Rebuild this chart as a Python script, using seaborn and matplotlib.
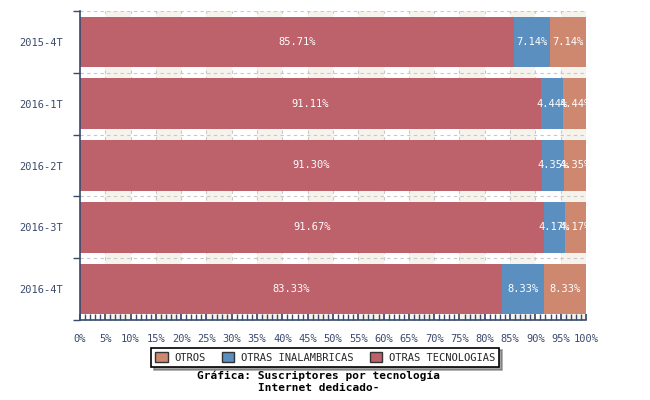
import numpy as np
import pandas as pd
import seaborn as sns
import matplotlib.pyplot as plt
from matplotlib.patches import Patch

periodos = ["2015-4T", "2016-1T", "2016-2T", "2016-3T", "2016-4T"]
otras_tecnologias = [85.71, 91.11, 91.30, 91.67, 83.33]
otras_inalambricas = [7.14, 4.44, 4.35, 4.17, 8.33]
otros = [7.14, 4.44, 4.35, 4.17, 8.33]

c_tec = "#bd616b"
c_inal = "#5b8fc0"
c_otros = "#cf8870"
c_axis = "#3a4a6b"

sns.set_theme(style="white")
plt.rcParams["font.family"] = ["DejaVu Sans Mono"]

df = pd.DataFrame({"periodo": periodos, "tec": otras_tecnologias,
                   "inal": otras_inalambricas, "otros": otros})
df["c1"] = df["tec"]
df["c2"] = df["tec"] + df["inal"]
df["c3"] = df["c2"] + df["otros"]

fig = plt.figure(figsize=(6.5, 4), dpi=100)
ax = fig.add_axes([0.123, 0.2, 0.7785, 0.7725])

# background bands
for s in range(5, 100, 10):
    ax.axvspan(s, s + 5, color="#f5f3ec", zorder=0, lw=0)
for v in range(5, 101, 5):
    ax.axvline(v, color="#c8c8c8", ls=(0, (3, 3)), lw=0.8, zorder=0.5)
for b in np.arange(-0.5, 5, 1):
    ax.axhline(b, color="#c8c8c8", ls=(0, (3, 3)), lw=0.8, zorder=0.5)

for col, c in [("c3", c_otros), ("c2", c_inal), ("c1", c_tec)]:
    sns.barplot(data=df, x=col, y="periodo", orient="h", color=c,
                width=0.82, saturation=1, ax=ax, zorder=2, linewidth=0)

for i in range(len(periodos)):
    starts = [0, df["c1"][i], df["c2"][i]]
    vals = [df["tec"][i], df["inal"][i], df["otros"][i]]
    for s, v in zip(starts, vals):
        ax.text(s + v / 2, i, f"{v:.2f}%", color="white", ha="center",
                va="center", fontsize=7.5, zorder=3)

ax.set_xlim(0, 100)
ax.set_ylim(4.5, -0.5)
ax.set_xlabel("")
ax.set_ylabel("")
ax.set_xticks(range(0, 101, 5))
ax.set_xticklabels([f"{v}%" for v in range(0, 101, 5)], fontsize=7.5, color=c_axis)
ax.set_xticks(range(0, 101, 1), minor=True)
ax.tick_params(axis="x", which="both", direction="in", bottom=True, length=4,
               color=c_axis, pad=10)
ax.set_yticks(range(len(periodos)))
ax.set_yticklabels(periodos, fontsize=7.5, color=c_axis)
ax.set_yticks(np.arange(-0.5, 5, 1), minor=True)
ax.tick_params(axis="y", which="major", length=0, pad=12)
ax.tick_params(axis="y", which="minor", left=True, length=5, color=c_axis)

for side in ["top", "right"]:
    ax.spines[side].set_visible(False)
for side in ["left", "bottom"]:
    ax.spines[side].set_color(c_axis)
    ax.spines[side].set_linewidth(1.2)

handles = [Patch(facecolor=c_otros, edgecolor="#333333", label="OTROS"),
           Patch(facecolor=c_inal, edgecolor="#333333", label="OTRAS INALAMBRICAS"),
           Patch(facecolor=c_tec, edgecolor="#333333", label="OTRAS TECNOLOGIAS")]
leg = fig.legend(handles=handles, loc="center", bbox_to_anchor=(0.5, 0.107),
                 ncol=3, fontsize=7.5, frameon=True, shadow=True, fancybox=False,
                 handlelength=1.2, handleheight=1.2, columnspacing=1.6,
                 borderpad=0.4, handletextpad=0.6)
leg.get_frame().set_edgecolor("black")
leg.get_frame().set_linewidth(1.2)

fig.text(0.49, 0.045, "Gráfica: Suscriptores por tecnología\nInternet dedicado-",
         ha="center", va="center", fontsize=8, fontweight="bold",
         color="black", linespacing=1.25)

fig.savefig("out.png", dpi=100)
